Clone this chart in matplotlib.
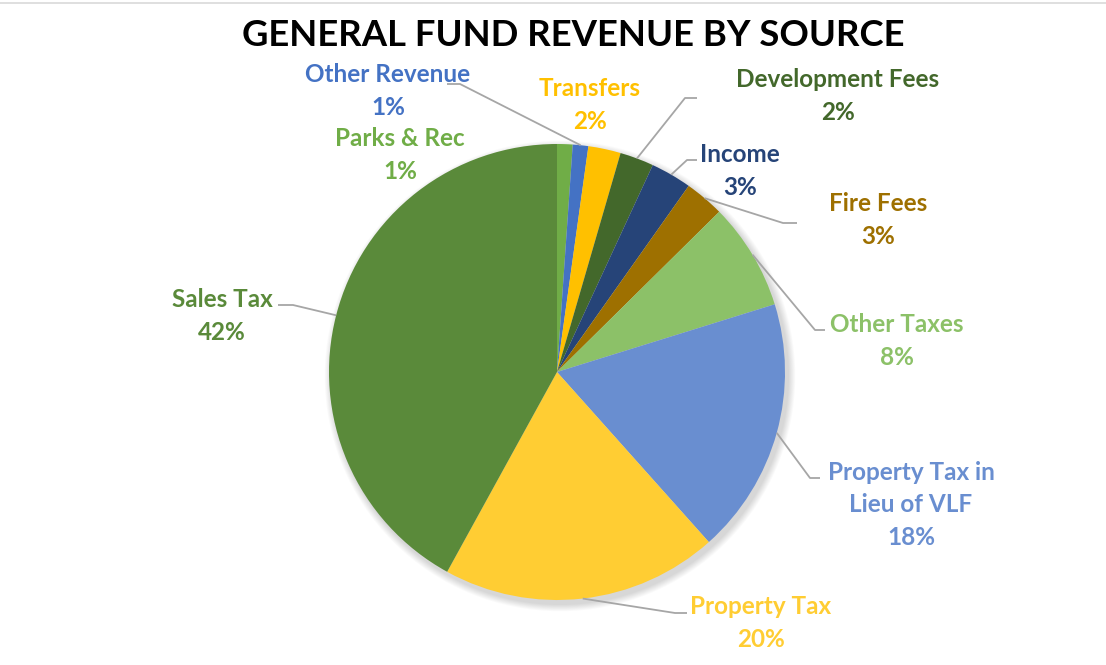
import matplotlib
matplotlib.use("Agg")
import matplotlib.pyplot as plt
import numpy as np
from matplotlib.patches import Circle

# Revenue shares (percent), clockwise from 12 o'clock
categories = ["Parks & Rec", "Other Revenue", "Transfers", "Development Fees",
              "Income", "Fire Fees", "Other Taxes", "Property Tax in\nLieu of VLF",
              "Property Tax", "Sales Tax"]
shares = [1.1, 1.1, 2.3, 2.4, 2.9, 2.8, 7.6, 18.2, 19.6, 42.0]
colors = ["#70AD47", "#4472C4", "#FFC000", "#43682B", "#264478",
          "#9E7000", "#8CC168", "#698ED0", "#FFCD33", "#5A8A3A"]
title = "GENERAL FUND REVENUE BY SOURCE"

W, H = 1106, 665
fig = plt.figure(figsize=(W / 100, H / 100), dpi=100)
ax = fig.add_axes([0, 0, 1, 1])

def py(y):
    # convert top-down pixel row to axis coordinate
    return H - y

cx, cy, R = 557, py(372), 228

# soft drop shadow behind the pie
for i in range(8):
    ax.add_patch(Circle((cx + 3, cy - 4), R + 1 + i * 0.9, color="black",
                        alpha=0.018, lw=0, zorder=1))

wedges, _ = ax.pie(shares, colors=colors, startangle=90, counterclock=False,
                   center=(cx, cy), radius=R, frame=True,
                   wedgeprops=dict(linewidth=0, zorder=2))
ax.set_xlim(0, W)
ax.set_ylim(0, H)
ax.set_aspect("equal")
ax.axis("off")

# label layout: text centre, and leader path (elbow points) or None
layout = {
    "Parks & Rec": ((400, 155), None),
    "Other Revenue": ((388, 91), [(460, 84), (447, 84)]),
    "Transfers": ((590, 105), None),
    "Development Fees": ((838, 96), [(685, 98), (697, 98)]),
    "Income": ((740, 171), [(687, 160), (697, 160)]),
    "Fire Fees": ((878, 220), [(783, 223), (797, 223)]),
    "Other Taxes": ((897, 341), [(815, 330), (825, 330)]),
    "Property Tax in\nLieu of VLF": ((911, 505), [(810, 478), (820, 478)]),
    "Property Tax": ((761, 623), [(675, 613), (687, 613)]),
    "Sales Tax": ((222, 316), [(293, 305), (278, 305)]),
}

font = dict(family="Lato", fontweight="bold")
line_color = "#A6A6A6"

for w, name, val, col in zip(wedges, categories, shares, colors):
    (tx, ty), path = layout[name]
    text = f"{name}\n{round(val):.0f}%"
    ax.text(tx, py(ty), text, ha="center", va="center", color=col,
            fontsize=17.5, linespacing=1.52, zorder=5, **font)
    if path:
        mid = np.deg2rad((w.theta1 + w.theta2) / 2)
        sx = cx + R * np.cos(mid)
        sy = cy + R * np.sin(mid)
        xs = [sx] + [p[0] for p in path]
        ys = [sy] + [py(p[1]) for p in path]
        ax.plot(xs, ys, color=line_color, lw=1.3, zorder=4,
                solid_capstyle="butt")

ax.text(573, py(36), title, ha="center", va="center", color="black",
        fontsize=26.3, zorder=5, **font)

# thin frame line along the top edge
ax.plot([0, W], [py(3), py(3)], color="#D9D9D9", lw=1.2, zorder=0)

fig.savefig("out.png", dpi=100)
